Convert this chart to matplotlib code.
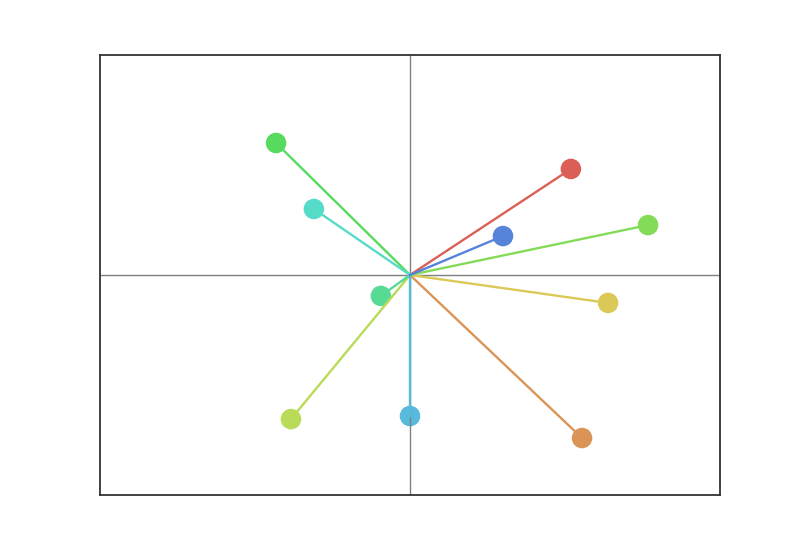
import matplotlib
matplotlib.use('Agg')
import matplotlib.pyplot as plt
import seaborn as sns

# loading vectors (x, y) for each variable
xs = [0.519, 0.555, 0.639, -0.384, 0.768, -0.432, -0.094, -0.310, 0.0, 0.300]
ys = [0.482, -0.741, -0.127, -0.655, 0.227, 0.600, -0.095, 0.300, -0.641, 0.177]

colors = sns.color_palette('hls', 15)[:len(xs)]

fig, ax = plt.subplots(figsize=(8, 5.5), dpi=100)
fig.subplots_adjust(top=0.9, bottom=0.1)

# markers first (collections sit under lines)
ax.scatter(xs, ys, s=190, c=colors, zorder=1)

# axis cross
ax.axhline(0, color='grey', lw=1)
ax.axvline(0, color='grey', lw=1)

for x, y, c in zip(xs, ys, colors):
    ax.plot([0, x], [0, y], color=c, lw=1.7)

ax.set_xlim(-1, 1)
ax.set_ylim(-1, 1)
ax.set_xticks([])
ax.set_yticks([])
for sp in ax.spines.values():
    sp.set_color('#333333')
    sp.set_linewidth(1.3)

plt.savefig('out.png')
